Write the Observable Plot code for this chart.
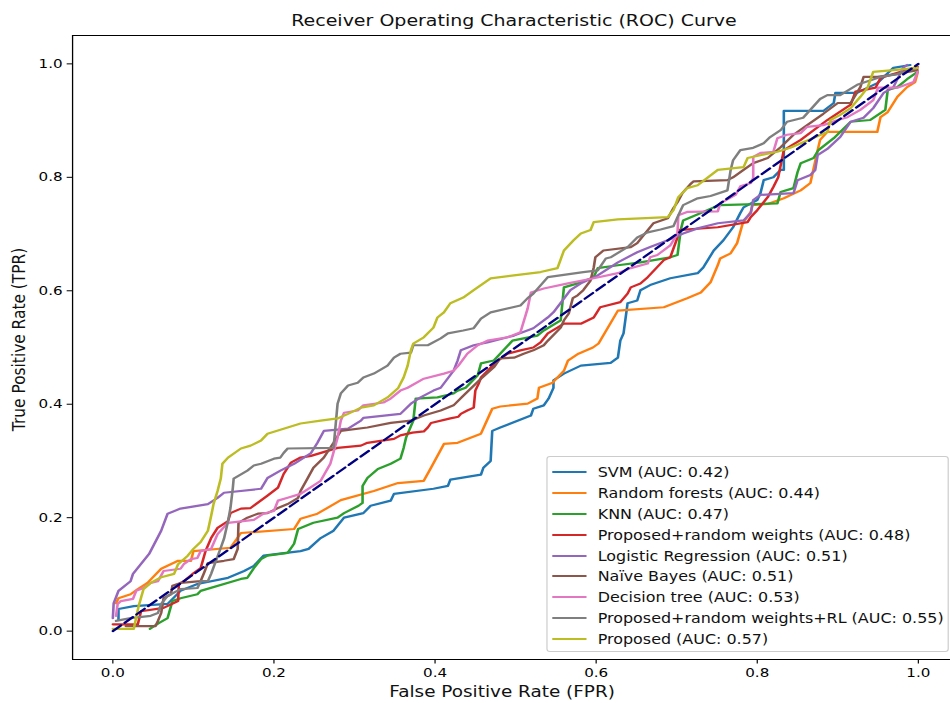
<!DOCTYPE html>
<html>
<head>
<meta charset="utf-8">
<script src="https://cdn.jsdelivr.net/npm/d3@7"></script>
<script src="https://cdn.jsdelivr.net/npm/@observablehq/plot@0.6"></script>
<style>
  html, body { margin: 0; padding: 0; background: #fff; }
  #figure {
    position: relative; width: 805px; height: 703px;
    transform: scaleX(1.1801); transform-origin: 0 0;
    font-family: "DejaVu Sans", sans-serif; color: #000;
  }
  #legend {
    position: absolute; left: 462.7px; top: 456px; width: 341px; height: 196px;
    box-sizing: border-box; border: 1px solid #cccccc; border-radius: 3px;
    background: rgba(255, 255, 255, 0.8);
  }
  .entry { position: absolute; left: 0; height: 0; width: 100%; }
  .entry .swatch { position: absolute; left: 4.8px; width: 28.2px; height: 2px; top: -1px; }
  .entry .name { position: absolute; left: 42.8px; top: -8px; font-size: 13.5px; line-height: 16px; white-space: nowrap; color: #111; }
</style>
</head>
<body>
<div id="figure"></div>
<script>
// Model names (as shown in the legend) and their line colours
const models = [
  "SVM (AUC: 0.42)",
  "Random forests (AUC: 0.44)",
  "KNN (AUC: 0.47)",
  "Proposed+random weights (AUC: 0.48)",
  "Logistic Regression (AUC: 0.51)",
  "Naïve Bayes (AUC: 0.51)",
  "Decision tree (AUC: 0.53)",
  "Proposed+random weights+RL (AUC: 0.55)",
  "Proposed (AUC: 0.57)"
];
const colors = ["#1f77b4", "#ff7f0e", "#2ca02c", "#d62728", "#9467bd", "#8c564b", "#e377c2", "#7f7f7f", "#bcbd22"];

// ROC curves: [false positive rate, true positive rate]
const svm = [[0.007,0.02],[0.007,0.039],[0.026,0.044],[0.068,0.048],[0.084,0.071],[0.105,0.083],[0.143,0.094],[0.163,0.106],[0.175,0.115],[0.187,0.133],[0.233,0.141],[0.243,0.145],[0.258,0.164],[0.274,0.177],[0.287,0.2],[0.311,0.208],[0.32,0.221],[0.345,0.23],[0.349,0.242],[0.398,0.251],[0.416,0.256],[0.419,0.267],[0.457,0.276],[0.46,0.288],[0.469,0.3],[0.471,0.353],[0.481,0.359],[0.519,0.38],[0.522,0.392],[0.535,0.398],[0.541,0.41],[0.547,0.429],[0.547,0.442],[0.56,0.454],[0.581,0.468],[0.618,0.473],[0.627,0.482],[0.63,0.512],[0.634,0.525],[0.639,0.578],[0.651,0.583],[0.655,0.601],[0.667,0.61],[0.692,0.622],[0.726,0.631],[0.733,0.641],[0.746,0.671],[0.758,0.689],[0.77,0.712],[0.779,0.737],[0.783,0.747],[0.8,0.76],[0.804,0.772],[0.808,0.795],[0.82,0.8],[0.829,0.813],[0.833,0.813],[0.833,0.917],[0.882,0.917],[0.895,0.931],[0.897,0.949],[0.924,0.949],[0.949,0.966],[0.969,0.993],[0.99,0.998]];
const randomForests = [[0.004,0.049],[0.007,0.058],[0.022,0.065],[0.031,0.074],[0.043,0.085],[0.06,0.11],[0.081,0.124],[0.097,0.124],[0.1,0.141],[0.146,0.147],[0.159,0.173],[0.225,0.18],[0.233,0.198],[0.254,0.207],[0.283,0.231],[0.324,0.247],[0.354,0.261],[0.386,0.265],[0.395,0.288],[0.411,0.33],[0.428,0.332],[0.457,0.348],[0.471,0.392],[0.481,0.396],[0.515,0.401],[0.527,0.41],[0.529,0.429],[0.546,0.438],[0.56,0.459],[0.565,0.477],[0.578,0.489],[0.596,0.5],[0.603,0.507],[0.627,0.565],[0.684,0.571],[0.713,0.587],[0.73,0.597],[0.742,0.615],[0.751,0.645],[0.754,0.657],[0.767,0.666],[0.775,0.684],[0.782,0.719],[0.792,0.739],[0.794,0.751],[0.813,0.753],[0.833,0.763],[0.854,0.777],[0.866,0.79],[0.875,0.848],[0.878,0.866],[0.887,0.88],[0.949,0.88],[0.953,0.906],[0.962,0.915],[0.974,0.942],[0.986,0.959],[0.996,0.968],[0.999,0.984]];
const knn = [[0.046,0.004],[0.057,0.014],[0.068,0.023],[0.074,0.053],[0.084,0.058],[0.105,0.065],[0.109,0.071],[0.159,0.092],[0.167,0.094],[0.175,0.111],[0.184,0.127],[0.192,0.133],[0.217,0.138],[0.225,0.154],[0.23,0.18],[0.249,0.191],[0.279,0.2],[0.287,0.208],[0.305,0.221],[0.31,0.226],[0.31,0.256],[0.316,0.27],[0.329,0.286],[0.345,0.295],[0.357,0.304],[0.361,0.323],[0.364,0.341],[0.373,0.371],[0.376,0.41],[0.403,0.412],[0.423,0.419],[0.428,0.424],[0.438,0.429],[0.453,0.451],[0.457,0.472],[0.473,0.477],[0.496,0.512],[0.527,0.521],[0.535,0.53],[0.556,0.548],[0.56,0.606],[0.577,0.613],[0.597,0.624],[0.602,0.64],[0.627,0.645],[0.655,0.65],[0.692,0.659],[0.701,0.663],[0.705,0.707],[0.708,0.724],[0.73,0.737],[0.746,0.747],[0.754,0.751],[0.825,0.754],[0.829,0.774],[0.845,0.781],[0.85,0.809],[0.854,0.825],[0.87,0.834],[0.876,0.848],[0.895,0.869],[0.916,0.898],[0.94,0.901],[0.959,0.919],[0.962,0.954],[0.974,0.959],[0.986,0.973],[0.999,0.986]];
const proposedRandomWeights = [[0,0.012],[0.031,0.012],[0.035,0.035],[0.063,0.041],[0.081,0.053],[0.082,0.083],[0.088,0.088],[0.1,0.102],[0.109,0.111],[0.115,0.141],[0.122,0.164],[0.13,0.182],[0.143,0.194],[0.146,0.208],[0.159,0.216],[0.171,0.217],[0.192,0.239],[0.205,0.253],[0.212,0.277],[0.221,0.297],[0.233,0.306],[0.246,0.309],[0.279,0.323],[0.308,0.327],[0.316,0.332],[0.349,0.339],[0.357,0.345],[0.372,0.35],[0.386,0.352],[0.391,0.359],[0.395,0.367],[0.419,0.375],[0.429,0.378],[0.432,0.383],[0.44,0.389],[0.448,0.394],[0.45,0.424],[0.454,0.436],[0.457,0.447],[0.478,0.477],[0.49,0.489],[0.506,0.495],[0.522,0.5],[0.531,0.509],[0.54,0.525],[0.552,0.535],[0.56,0.542],[0.581,0.542],[0.597,0.553],[0.605,0.571],[0.63,0.58],[0.639,0.595],[0.643,0.606],[0.655,0.613],[0.664,0.624],[0.684,0.654],[0.692,0.659],[0.701,0.694],[0.702,0.707],[0.751,0.712],[0.788,0.721],[0.792,0.73],[0.8,0.742],[0.813,0.765],[0.82,0.783],[0.826,0.8],[0.833,0.848],[0.854,0.866],[0.887,0.901],[0.916,0.928],[0.922,0.951],[0.947,0.958],[0.953,0.975],[0.978,0.986],[0.999,0.995]];
const logisticRegression = [[0,0.023],[0.001,0.049],[0.007,0.071],[0.022,0.088],[0.025,0.101],[0.045,0.136],[0.06,0.177],[0.068,0.207],[0.084,0.216],[0.118,0.224],[0.13,0.235],[0.138,0.244],[0.184,0.251],[0.192,0.27],[0.208,0.283],[0.225,0.295],[0.246,0.314],[0.254,0.332],[0.262,0.353],[0.292,0.357],[0.308,0.371],[0.311,0.376],[0.357,0.383],[0.37,0.401],[0.382,0.412],[0.398,0.424],[0.407,0.429],[0.423,0.459],[0.428,0.477],[0.432,0.495],[0.448,0.504],[0.465,0.509],[0.498,0.521],[0.522,0.534],[0.54,0.553],[0.547,0.562],[0.568,0.601],[0.581,0.613],[0.602,0.627],[0.627,0.65],[0.651,0.668],[0.667,0.677],[0.689,0.689],[0.708,0.701],[0.726,0.71],[0.751,0.719],[0.783,0.724],[0.792,0.737],[0.795,0.76],[0.804,0.769],[0.845,0.772],[0.85,0.795],[0.866,0.804],[0.872,0.813],[0.875,0.839],[0.887,0.85],[0.903,0.871],[0.916,0.898],[0.932,0.905],[0.944,0.922],[0.957,0.949],[0.969,0.959],[0.981,0.993],[0.986,0.998]];
const naiveBayes = [[0.016,0.009],[0.053,0.009],[0.056,0.018],[0.06,0.032],[0.063,0.058],[0.072,0.065],[0.074,0.08],[0.084,0.085],[0.109,0.088],[0.113,0.102],[0.118,0.12],[0.138,0.124],[0.15,0.127],[0.155,0.145],[0.156,0.191],[0.167,0.2],[0.18,0.207],[0.192,0.208],[0.205,0.217],[0.217,0.224],[0.23,0.235],[0.233,0.247],[0.242,0.27],[0.249,0.288],[0.262,0.306],[0.274,0.332],[0.283,0.353],[0.316,0.359],[0.345,0.367],[0.37,0.371],[0.386,0.38],[0.407,0.389],[0.423,0.398],[0.435,0.415],[0.457,0.445],[0.473,0.465],[0.481,0.481],[0.498,0.482],[0.51,0.489],[0.522,0.495],[0.535,0.504],[0.54,0.512],[0.556,0.535],[0.56,0.548],[0.566,0.56],[0.571,0.587],[0.577,0.592],[0.584,0.601],[0.593,0.618],[0.597,0.641],[0.599,0.659],[0.609,0.671],[0.643,0.677],[0.651,0.684],[0.659,0.698],[0.671,0.719],[0.689,0.728],[0.696,0.746],[0.701,0.756],[0.707,0.772],[0.717,0.788],[0.721,0.793],[0.763,0.795],[0.77,0.8],[0.783,0.813],[0.795,0.825],[0.813,0.834],[0.829,0.853],[0.845,0.875],[0.862,0.892],[0.882,0.912],[0.9,0.931],[0.916,0.931],[0.928,0.959],[0.932,0.977],[0.949,0.977],[0.969,0.981],[0.999,0.989]];
const decisionTree = [[0.004,0.027],[0.006,0.048],[0.01,0.053],[0.025,0.057],[0.029,0.071],[0.038,0.076],[0.047,0.085],[0.056,0.088],[0.063,0.106],[0.084,0.11],[0.088,0.118],[0.097,0.127],[0.105,0.129],[0.109,0.141],[0.122,0.145],[0.13,0.171],[0.143,0.191],[0.175,0.196],[0.187,0.207],[0.2,0.212],[0.205,0.23],[0.217,0.235],[0.233,0.242],[0.258,0.265],[0.27,0.295],[0.279,0.341],[0.283,0.371],[0.287,0.385],[0.304,0.389],[0.311,0.398],[0.336,0.403],[0.345,0.41],[0.357,0.424],[0.366,0.429],[0.386,0.445],[0.411,0.454],[0.423,0.459],[0.429,0.468],[0.44,0.489],[0.453,0.504],[0.465,0.512],[0.49,0.518],[0.506,0.527],[0.515,0.569],[0.519,0.597],[0.535,0.604],[0.565,0.613],[0.597,0.622],[0.627,0.631],[0.643,0.64],[0.664,0.648],[0.667,0.659],[0.676,0.663],[0.692,0.68],[0.701,0.701],[0.702,0.733],[0.713,0.739],[0.751,0.74],[0.754,0.754],[0.773,0.769],[0.779,0.784],[0.792,0.79],[0.795,0.799],[0.795,0.836],[0.804,0.843],[0.82,0.845],[0.825,0.869],[0.837,0.875],[0.854,0.878],[0.862,0.889],[0.882,0.892],[0.9,0.901],[0.912,0.906],[0.928,0.919],[0.944,0.936],[0.95,0.958],[0.974,0.958],[0.994,0.968],[0.999,0.986]];
const proposedRandomWeightsRL = [[0.004,0.018],[0.022,0.023],[0.047,0.027],[0.056,0.032],[0.06,0.048],[0.068,0.062],[0.084,0.074],[0.105,0.076],[0.109,0.088],[0.118,0.088],[0.122,0.101],[0.134,0.147],[0.138,0.163],[0.143,0.194],[0.146,0.217],[0.149,0.253],[0.15,0.269],[0.167,0.283],[0.175,0.292],[0.184,0.295],[0.2,0.304],[0.208,0.306],[0.212,0.314],[0.217,0.322],[0.274,0.323],[0.279,0.401],[0.283,0.419],[0.292,0.433],[0.304,0.438],[0.311,0.447],[0.324,0.454],[0.341,0.468],[0.349,0.482],[0.357,0.489],[0.37,0.491],[0.373,0.504],[0.391,0.504],[0.407,0.516],[0.416,0.525],[0.435,0.53],[0.448,0.534],[0.457,0.551],[0.469,0.562],[0.506,0.574],[0.515,0.587],[0.522,0.595],[0.54,0.624],[0.584,0.633],[0.602,0.636],[0.612,0.657],[0.618,0.659],[0.639,0.677],[0.651,0.694],[0.664,0.703],[0.68,0.708],[0.696,0.714],[0.701,0.73],[0.708,0.751],[0.726,0.763],[0.742,0.767],[0.763,0.777],[0.767,0.813],[0.77,0.83],[0.779,0.848],[0.795,0.852],[0.808,0.86],[0.816,0.871],[0.829,0.883],[0.837,0.898],[0.857,0.905],[0.878,0.938],[0.887,0.945],[0.903,0.945],[0.924,0.963],[0.953,0.977],[0.974,0.982],[0.999,0.993]];
const proposed = [[0,0.004],[0.026,0.004],[0.032,0.044],[0.038,0.074],[0.047,0.085],[0.06,0.095],[0.076,0.101],[0.081,0.118],[0.093,0.133],[0.1,0.145],[0.109,0.157],[0.118,0.177],[0.122,0.203],[0.125,0.224],[0.13,0.247],[0.134,0.269],[0.136,0.295],[0.143,0.306],[0.159,0.322],[0.171,0.327],[0.184,0.336],[0.192,0.348],[0.217,0.359],[0.233,0.366],[0.258,0.371],[0.279,0.375],[0.292,0.383],[0.308,0.394],[0.324,0.398],[0.341,0.412],[0.354,0.428],[0.361,0.447],[0.366,0.468],[0.37,0.495],[0.373,0.507],[0.386,0.518],[0.398,0.535],[0.403,0.553],[0.411,0.562],[0.419,0.578],[0.435,0.588],[0.448,0.601],[0.469,0.622],[0.498,0.627],[0.531,0.633],[0.552,0.64],[0.56,0.671],[0.572,0.689],[0.581,0.701],[0.593,0.707],[0.597,0.721],[0.627,0.726],[0.689,0.73],[0.696,0.742],[0.702,0.765],[0.713,0.781],[0.726,0.786],[0.738,0.799],[0.751,0.813],[0.783,0.818],[0.788,0.834],[0.804,0.839],[0.825,0.845],[0.841,0.852],[0.887,0.88],[0.891,0.901],[0.903,0.91],[0.916,0.922],[0.928,0.942],[0.937,0.958],[0.944,0.986],[0.969,0.989],[0.999,0.993]];

// Chance line
const diagonal = [[0, 0], [1, 1]];

// Axis ticks and view extents
const xTicks = [0, 0.2, 0.4, 0.6, 0.8, 1.0];
const yTicks = [0, 0.2, 0.4, 0.6, 0.8, 1.0];
const xDomain = [-0.05, 1.04];
const yDomain = [-0.05, 1.05];

const title = "Receiver Operating Characteristic (ROC) Curve";
const xLabel = "False Positive Rate (FPR)";
const yLabel = "True Positive Rate (TPR)";

const curves = [svm, randomForests, knn, proposedRandomWeights, logisticRegression, naiveBayes, decisionTree, proposedRandomWeightsRL, proposed];
const rows = curves.flatMap((pts, i) => pts.map(([fpr, tpr]) => ({model: models[i], fpr, tpr})));

const chart = Plot.plot({
  width: 805,
  height: 703,
  marginLeft: 61,
  marginRight: 0,
  marginTop: 35,
  marginBottom: 44,
  style: {fontFamily: "DejaVu Sans", fontSize: "12.8px", color: "#000", background: "transparent", overflow: "visible"},
  x: {domain: xDomain, ticks: xTicks, tickFormat: d3.format(".1f"), tickSize: 4.5, tickPadding: 4, label: null},
  y: {domain: yDomain, ticks: yTicks, tickFormat: d3.format(".1f"), tickSize: 4.5, tickPadding: 4, label: null},
  color: {domain: models, range: colors},
  marks: [
    Plot.line(rows, {x: "fpr", y: "tpr", z: "model", stroke: "model", strokeWidth: 2.2, strokeLinejoin: "round"}),
    Plot.line(diagonal, {x: d => d[0], y: d => d[1], stroke: "navy", strokeWidth: 2.2, strokeDasharray: "9,4"}),
    Plot.ruleX([xDomain[0]], {stroke: "#000", strokeWidth: 1.1}),
    Plot.ruleY(yDomain, {stroke: "#000", strokeWidth: 1.1}),
    Plot.text([title], {frameAnchor: "top", dy: -15, dx: 2, fontSize: 16.1, lineAnchor: "middle", fill: "#111"}),
    Plot.text([xLabel], {frameAnchor: "bottom", dy: 33, dx: -8, fontSize: 15.6, lineAnchor: "middle", fill: "#111"}),
    Plot.text([yLabel], {frameAnchor: "left", dx: -45.5, dy: -8, rotate: -90, fontSize: 15.4, textAnchor: "middle", lineAnchor: "middle", fill: "#111"})
  ]
});

const figure = document.getElementById("figure");
figure.appendChild(chart);

// Legend box in the lower right of the axes
const legend = document.createElement("div");
legend.id = "legend";
models.forEach((name, i) => {
  const entry = document.createElement("div");
  entry.className = "entry";
  entry.style.top = Math.round(14.7 + i * 20.95) + "px";
  const swatch = document.createElement("div");
  swatch.className = "swatch";
  swatch.style.background = colors[i];
  const label = document.createElement("div");
  label.className = "name";
  label.textContent = name;
  entry.appendChild(swatch);
  entry.appendChild(label);
  legend.appendChild(entry);
});
figure.appendChild(legend);
</script>
</body>
</html>
